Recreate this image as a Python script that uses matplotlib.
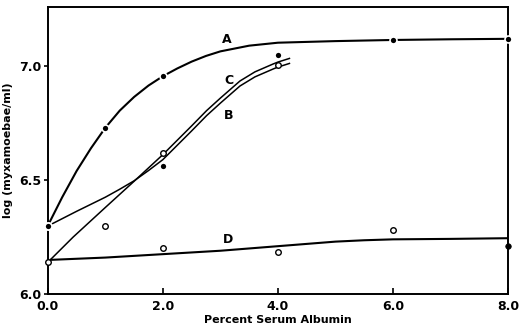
import matplotlib
matplotlib.use("Agg")
import matplotlib.pyplot as plt

# Measured points
a_x = [0, 1, 2, 4, 6, 8]
a_y = [6.30, 6.73, 6.956, 7.048, 7.115, 7.12]
b_x = [0, 2, 4]
b_y = [6.30, 6.56, 7.048]
c_x = [0, 1, 2, 4]
c_y = [6.14, 6.30, 6.617, 7.004]
d_open_x = [2, 4, 6]
d_open_y = [6.20, 6.185, 6.28]
d_end_x = [8]
d_end_y = [6.21]

# Fitted curves
curve_a_x = [0, 0.25, 0.5, 0.75, 1, 1.25, 1.5, 1.75, 2, 2.25, 2.5, 2.75, 3, 3.5, 4, 5, 6, 7, 8]
curve_a_y = [6.30, 6.425, 6.54, 6.64, 6.73, 6.805, 6.865, 6.915, 6.956, 6.99, 7.02, 7.045,
             7.065, 7.09, 7.103, 7.11, 7.115, 7.118, 7.12]
curve_b_x = [0.05, 0.5, 1, 1.25, 1.5, 1.75, 2, 2.5, 2.76, 3, 3.34, 3.6, 3.92, 4.0, 4.2]
curve_b_y = [6.305, 6.363, 6.425, 6.46, 6.497, 6.542, 6.59, 6.716, 6.783, 6.838, 6.913, 6.953,
             6.988, 6.996, 7.012]
curve_c_x = [0.05, 0.44, 1, 1.5, 2, 2.5, 2.76, 3, 3.34, 3.6, 3.92, 4.0, 4.2]
curve_c_y = [6.152, 6.25, 6.38, 6.495, 6.612, 6.738, 6.805, 6.86, 6.935, 6.975, 7.01, 7.018, 7.034]
curve_d_x = [0.05, 1, 2, 3, 4, 5, 5.5, 6, 7, 8]
curve_d_y = [6.15, 6.16, 6.175, 6.19, 6.21, 6.23, 6.236, 6.24, 6.242, 6.245]

plt.rcParams['font.family'] = ['DejaVu Sans']
plt.rcParams['font.weight'] = 'bold'

fig = plt.figure(figsize=(5.2, 3.3), dpi=100)
ax = fig.add_axes([0.092, 0.109, 0.885, 0.87])

ax.plot(curve_a_x, curve_a_y, color='black', lw=1.5, zorder=2)
ax.plot(curve_d_x, curve_d_y, color='black', lw=1.5, zorder=2)
ax.plot(curve_b_x, curve_b_y, color='black', lw=1.1, zorder=2)
ax.plot(curve_c_x, curve_c_y, color='black', lw=1.1, zorder=2)

# filled points
ax.plot(a_x, a_y, 'o', ms=5, mfc='black', mec='white', mew=1.2, zorder=3, clip_on=False)
ax.plot(b_x, b_y, 'o', ms=5, mfc='black', mec='white', mew=1.2, zorder=3, clip_on=False)
ax.plot(d_end_x, d_end_y, 'o', ms=4, mfc='black', mec='black', mew=0.5, zorder=3, clip_on=False)
# open points
ax.plot(c_x, c_y, 'o', ms=4, mfc='white', mec='black', mew=1.0, zorder=4, clip_on=False)
ax.plot(d_open_x, d_open_y, 'o', ms=4, mfc='white', mec='black', mew=1.0, zorder=4, clip_on=False)

lab = dict(fontsize=9, fontweight='bold', ha='center', va='center')
ax.text(3.11, 7.118, 'A', **lab)
ax.text(3.14, 6.935, 'C', **lab)
ax.text(3.15, 6.785, 'B', **lab)
ax.text(3.14, 6.24, 'D', **lab)

ax.set_xlim(0, 8)
ax.set_ylim(6.0, 7.26)
ax.set_xticks([0, 2, 4, 6, 8])
ax.set_xticklabels(['0.0', '2.0', '4.0', '6.0', '8.0'])
ax.set_yticks([6.0, 6.5, 7.0])
ax.set_yticklabels(['6.0', '6.5', '7.0'])
ax.tick_params(axis='x', direction='in', length=4, width=1.2, labelsize=9, pad=4)
ax.tick_params(axis='y', direction='out', length=3, width=1.2, labelsize=9, pad=2)
for s in ax.spines.values():
    s.set_linewidth(1.4)

ax.set_xlabel('Percent Serum Albumin', fontsize=8, fontweight='bold', labelpad=2)
ax.set_ylabel('log (myxamoebae/ml)', fontsize=8, fontweight='bold', labelpad=4)

fig.savefig('out.png', dpi=100)
